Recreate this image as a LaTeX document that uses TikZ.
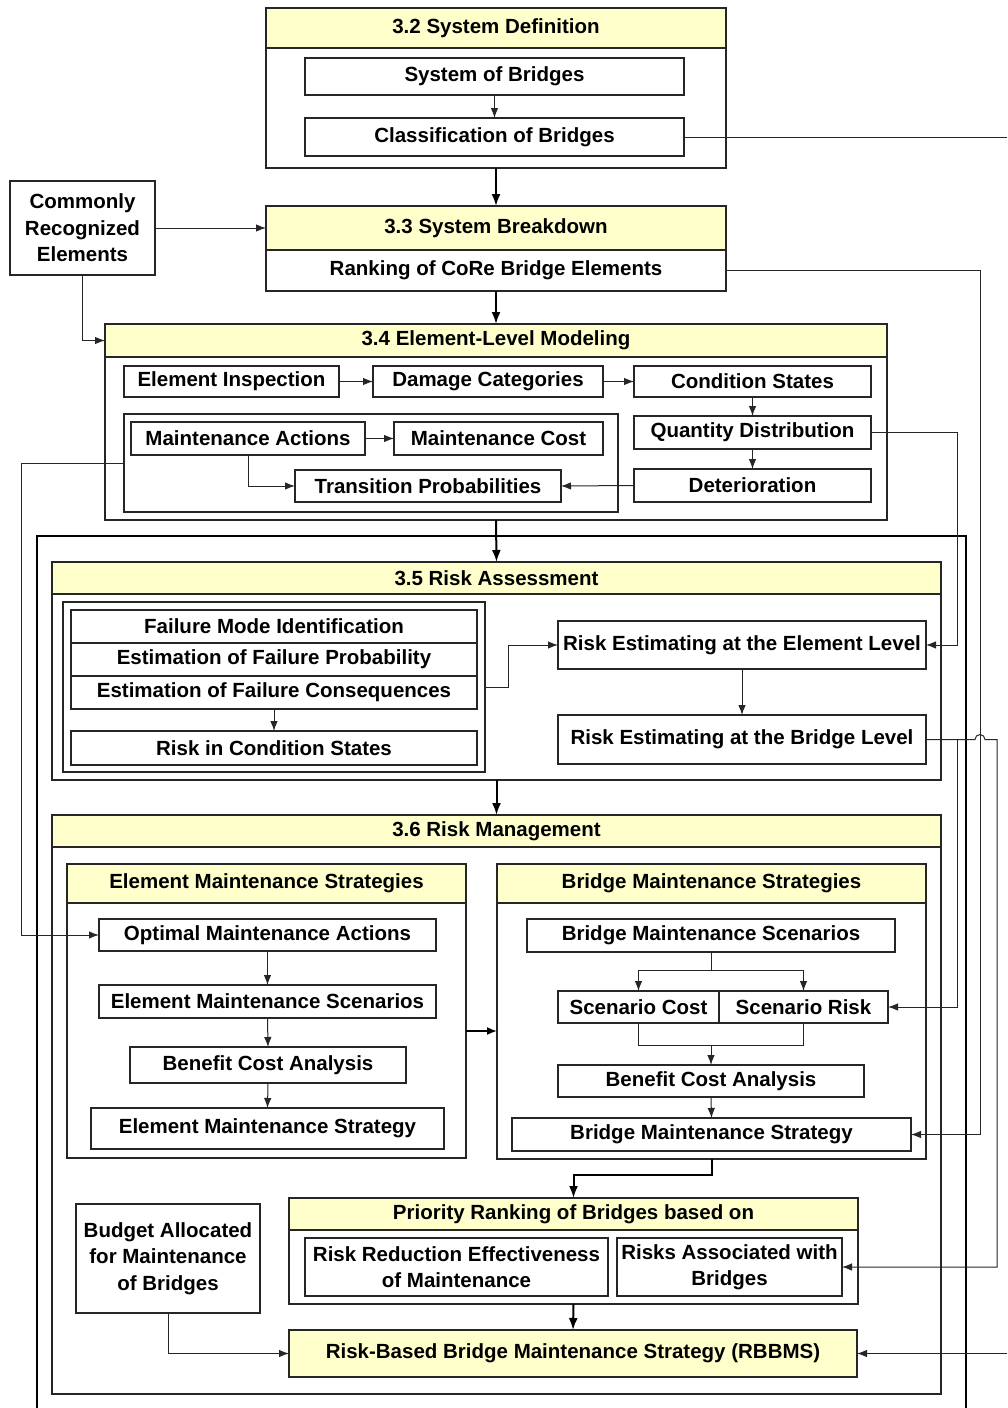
\documentclass[tikz,border=0pt]{standalone}
\usepackage{fontspec}
\setmainfont{Liberation Sans}
\usetikzlibrary{arrows.meta,calc}
\definecolor{hdr}{RGB}{255,255,204}
\newcommand\fsz{\fontsize{20.5}{26.5}\selectfont}
% box from corner (x1,y1) to corner (x2,y2), in pixel units with y pointing down
\newcommand\flowbox[7][]{\node[box,#1,minimum width={(#5-#3)*1pt},minimum height={(#6-#4)*1pt}] (#2) at ({(#3+#5)/2},{(#4+#6)/2}) {#7};}
\tikzset{
  box/.style={draw=black!85, line width=1.2pt, inner sep=0pt, outer sep=0pt, align=center, font=\fsz\bfseries},
  hdrbox/.style={box, fill=hdr},
  conn/.style={draw=black!85, line width=1pt},
  arr/.style={conn, -{Latex[length=10pt,width=7.5pt]}},
  tarr/.style={draw=black, line width=2pt, -{Latex[length=12pt,width=9pt]}},
}
\begin{document}
\begin{tikzpicture}[x=1pt,y=-1pt]
\fill[white] (0,0) rectangle (1007,1408);
\useasboundingbox (0,0) rectangle (1007,1408);

% column and row helpers for routed connectors
\coordinate (xR) at (1007,0);
\coordinate (x21) at (21,0);
\coordinate (x957) at (957,0);
\coordinate (x980) at (980,0);
\coordinate (x997) at (997,0);
\coordinate (y1031) at (0,1031);
\coordinate (mrg) at (711,1045);

% 3.2 System Definition
\flowbox{s32}{266}{8}{726}{168}{}
\flowbox[hdrbox]{s32h}{266}{8}{726}{48}{3.2 System Definition}
\flowbox{sob}{305}{58}{684}{95}{System of Bridges}
\flowbox{cob}{305}{118}{684}{156}{Classification of Bridges}

% 3.3 System Breakdown
\flowbox[hdrbox]{s33h}{266}{206}{726}{250}{3.3 System Breakdown}
\flowbox{rank}{266}{250}{726}{291}{Ranking of CoRe Bridge Elements}
\flowbox{cre}{10}{181}{155}{275}{Commonly\\Recognized\\Elements}

% 3.4 Element-Level Modeling
\flowbox{s34}{105}{324}{887}{520}{}
\flowbox[hdrbox]{s34h}{105}{324}{887}{357}{3.4 Element-Level Modeling}
\flowbox{ei}{124}{366}{339}{397}{Element Inspection}
\flowbox{dc}{373}{366}{603}{397}{Damage Categories}
\flowbox{cs}{634}{366}{871}{397}{Condition States}
\flowbox{qd}{634}{416}{871}{449}{Quantity Distribution}
\flowbox{det}{634}{469}{871}{502}{Deterioration}
\flowbox{mgrp}{124}{414}{618}{512}{}
\flowbox{ma}{131}{422}{365}{455}{Maintenance Actions}
\flowbox{mc}{394}{422}{603}{455}{Maintenance Cost}
\flowbox{tp}{295}{470}{561}{502}{Transition Probabilities}

% outer frame around assessment and management
\draw[line width=2pt] (37,1408) -- (37,536) -- (966,536) -- (966,1408);

% 3.5 Risk Assessment
\flowbox{s35}{52}{562}{941}{780}{}
\flowbox[hdrbox]{s35h}{52}{562}{941}{594}{3.5 Risk Assessment}
\flowbox{fgrp}{63}{602}{485}{772}{}
\flowbox{fmi}{71}{610}{477}{643}{Failure Mode Identification}
\flowbox{efp}{71}{643}{477}{676}{Estimation of Failure Probability}
\flowbox{efc}{71}{676}{477}{709}{Estimation of Failure Consequences}
\flowbox{rics}{71}{731}{477}{765}{Risk in Condition States}
\flowbox{el}{558}{621}{926}{669}{Risk Estimating at the Element Level}
\flowbox{bl}{558}{715}{926}{764}{Risk Estimating at the Bridge Level}

% 3.6 Risk Management
\flowbox{s36}{52}{815}{941}{1394}{}
\flowbox[hdrbox]{s36h}{52}{815}{941}{847}{3.6 Risk Management}
\flowbox{ems}{67}{864}{466}{1158}{}
\flowbox[hdrbox]{emsh}{67}{864}{466}{903}{Element Maintenance Strategies}
\flowbox{oma}{99}{919}{436}{951}{Optimal Maintenance Actions}
\flowbox{emsc}{99}{985}{436}{1018}{Element Maintenance Scenarios}
\flowbox{bca1}{130}{1047}{406}{1083}{Benefit Cost Analysis}
\flowbox{emst}{91}{1108}{444}{1149}{Element Maintenance Strategy}
\flowbox{bms}{497}{864}{926}{1159}{}
\flowbox[hdrbox]{bmsh}{497}{864}{926}{903}{Bridge Maintenance Strategies}
\flowbox{bmsc}{527}{919}{895}{952}{Bridge Maintenance Scenarios}
\flowbox{sc}{558}{991}{719}{1023}{Scenario Cost}
\flowbox{sr}{719}{991}{888}{1023}{Scenario Risk}
\flowbox{bca2}{558}{1065}{864}{1097}{Benefit Cost Analysis}
\flowbox{bmst}{512}{1118}{911}{1151}{Bridge Maintenance Strategy}
\flowbox{pr}{289}{1198}{858}{1304}{}
\flowbox[hdrbox]{prh}{289}{1198}{858}{1230}{Priority Ranking of Bridges based on}
\flowbox{rre}{305}{1238}{608}{1296}{Risk Reduction Effectiveness\\of Maintenance}
\flowbox{rab}{617}{1238}{842}{1296}{Risks Associated with\\Bridges}
\flowbox{bud}{76}{1204}{260}{1313}{Budget Allocated\\for Maintenance\\of Bridges}
\flowbox[hdrbox]{rb}{289}{1330}{857}{1377}{Risk-Based Bridge Maintenance Strategy (RBBMS)}

% connectors
\draw[arr] (sob.south) -- (cob.north);
\draw[conn] (cob.east) -- (cob.east -| xR);
\draw[tarr] (s32.south) -- (s33h.north);
\draw[arr] (cre.east) -- (s33h.west);
\draw[arr] (rank.east) -- (rank.east -| x980) |- (bmst.east);
\draw[tarr] (rank.south) -- (s34h.north);
\draw[arr] (cre.south) |- (s34h.west);
\draw[arr] (ei.east) -- (dc.west);
\draw[arr] (dc.east) -- (cs.west);
\draw[arr] (cs.south) -- (qd.north);
\draw[arr] (qd.south) -- (det.north);
\draw[arr] (ma.east) -- (mc.west);
\draw[arr] (ma.south) |- (tp.west);
\draw[arr] (det.west) -- (tp.east);
\draw[arr] (mgrp.west) -- (mgrp.west -| x21) |- (oma.west);
\draw[arr] (qd.east) -- (qd.east -| x957) |- (el.east);
\draw[tarr] (s34.south) -- (s35h.north);

\draw[arr] (efc.south) -- (rics.north);
\draw[arr] (fgrp.east) -- ++(23,0) |- (el.west);
\draw[arr] (el.south) -- (bl.north);
\draw[arr] (bl.east) -- ($(bl.east -| x980)+(-5,0)$) arc[start angle=180, end angle=0, radius=5pt]
  -- (bl.east -| x997) |- (rab.east);
\draw[arr] (bl.east -| x957) |- (sr.east);
\draw[tarr] (s35.south) -- (s36h.north);

\draw[arr] (oma.south) -- (emsc.north);
\draw[arr] (emsc.south) -- (bca1.north);
\draw[arr] (bca1.south) -- (emst.north);
\draw[draw=black, line width=1.6pt, -{Latex[length=10pt,width=8pt]}] (ems.east |- y1031) -- (bms.west |- y1031);
\draw[arr] (bmsc.south) -- ++(0,18) -| (sc.north);
\draw[arr] (bmsc.south) -- ++(0,18) -| (sr.north);
\draw[conn] (sc.south) |- (mrg) -| (sr.south);
\draw[arr] (mrg) -- (bca2.north);
\draw[arr] (bca2.south) -- (bmst.north);
\draw[tarr] (bms.south) -- ++(0,16) -| (prh.north);
\draw[tarr] (pr.south) -- (rb.north);
\draw[arr] (bud.south) |- (rb.west);
\draw[arr] (rb.east -| xR) -- (rb.east);
\end{tikzpicture}
\end{document}
